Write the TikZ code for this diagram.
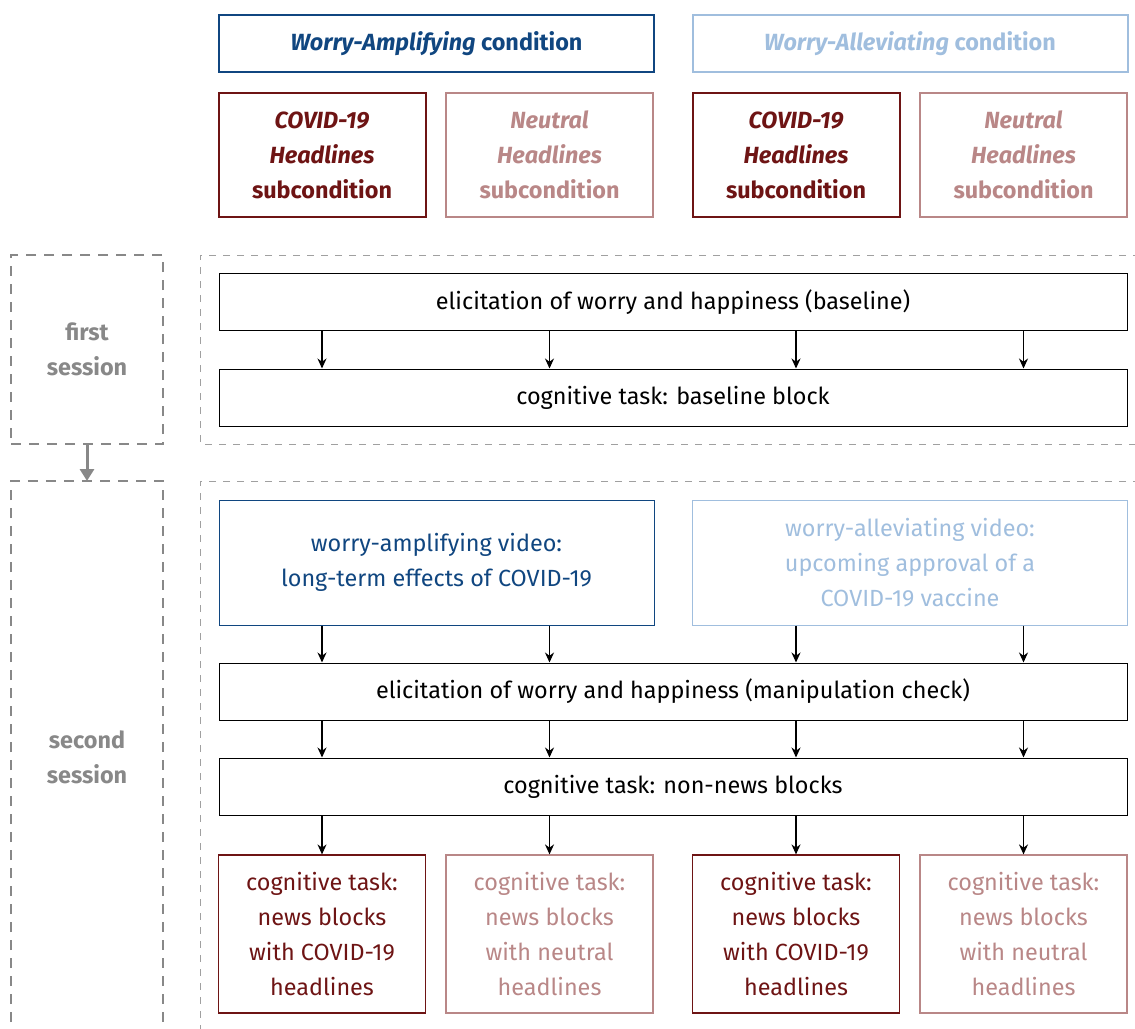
\documentclass[tikz,border=0pt]{standalone}
\usepackage{fontspec}
\setmainfont{Fira Sans}
\usetikzlibrary{arrows.meta}
\definecolor{wablue}{RGB}{16,70,128}
\definecolor{walight}{RGB}{160,190,222}
\definecolor{covred}{RGB}{110,20,20}
\definecolor{neured}{RGB}{185,135,135}
\definecolor{sessgray}{RGB}{136,136,136}

\begin{document}
\begin{tikzpicture}[x=0.5pt,y=-0.5pt,
  every node/.style={font=\fontsize{11.7}{17.5}\selectfont,align=center,inner sep=0pt},
  condbox/.style={draw,line width=1pt,minimum width=217.5pt,minimum height=28.5pt,
    font=\fontsize{11.7}{17.5}\selectfont\bfseries},
  subbox/.style={draw,line width=1pt,minimum width=103.5pt,minimum height=62pt,
    font=\fontsize{11.7}{17.5}\selectfont\bfseries},
  stepbox/.style={draw,line width=0.5pt,minimum width=454pt,minimum height=28.5pt},
  videobox/.style={draw,line width=0.5pt,minimum width=217.5pt,minimum height=62.5pt},
  newsbox/.style={draw,line width=0.6pt,minimum width=103.5pt,minimum height=79pt},
  sessbox/.style={draw=sessgray,line width=1.2pt,dash pattern=on 5pt off 4pt},
  sesstext/.style={text=sessgray,font=\fontsize{11.7}{17.5}\selectfont\bfseries},
  frame/.style={draw=sessgray!80,line width=0.5pt,dash pattern=on 3.5pt off 3.5pt},
  arr/.style={-{Stealth[length=5pt,width=4.5pt]},line width=0.7pt}]
\useasboundingbox (0,0) rectangle (1135,1028);

% conditions
\node[condbox,draw=wablue,text=wablue] (ampl) at (436.5,43.5) {\textit{Worry-Amplifying} condition};
\node[condbox,draw=walight,text=walight] (allev) at (910,43.5) {\textit{Worry-Alleviating} condition};

% subconditions
\node[subbox,draw=covred,text=covred] (acov) at (322,155) {\textit{COVID-19}\\\textit{Headlines}\\subcondition};
\node[subbox,draw=neured,text=neured] (aneu) at (549.5,155) {\textit{Neutral}\\\textit{Headlines}\\subcondition};
\node[subbox,draw=covred,text=covred] (lcov) at (796,155) {\textit{COVID-19}\\\textit{Headlines}\\subcondition};
\node[subbox,draw=neured,text=neured] (lneu) at (1023.5,155) {\textit{Neutral}\\\textit{Headlines}\\subcondition};

% first session
\node[sessbox,sesstext,minimum width=76pt,minimum height=94.5pt] (first) at (87,349.5) {first\\session};
\draw[frame] (1140,255) -- (200,255) -- (200,444) -- (1140,444);
\node[stepbox] (elicbase) at (673,302) {elicitation of worry and happiness (baseline)};
\node[stepbox] (taskbase) at (673,397.5) {cognitive task: baseline block};

% second session
\coordinate (secondtop) at (87,481);
\draw[sessbox] (11,1040) -- (11,481) -- (163,481) -- (163,1040);
\node[sesstext] (second) at (87,757) {second\\session};
\draw[frame] (1140,481) -- (200,481) -- (200,1040);
\draw[-{Triangle[length=6pt,width=7pt]},line width=1.5pt,sessgray] (first) -- (secondtop);

\node[videobox,draw=wablue,text=wablue] (ampvid) at (436.5,562.5) {worry-amplifying video:\\long-term effects of COVID-19};
\node[videobox,draw=walight,text=walight] (allvid) at (910,562.5) {worry-alleviating video:\\upcoming approval of a\\COVID-19 vaccine};
\node[stepbox] (eliccheck) at (673,691.5) {elicitation of worry and happiness (manipulation check)};
\node[stepbox] (tasknon) at (673,786.5) {cognitive task: non-news blocks};

\node[newsbox,draw=covred,text=covred] (anewscov) at (322,934) {cognitive task:\\news blocks\\with COVID-19\\headlines};
\node[newsbox,draw=neured,text=neured] (anewsneu) at (549.5,934) {cognitive task:\\news blocks\\with neutral\\headlines};
\node[newsbox,draw=covred,text=covred] (lnewscov) at (796,934) {cognitive task:\\news blocks\\with COVID-19\\headlines};
\node[newsbox,draw=neured,text=neured] (lnewsneu) at (1023.5,934) {cognitive task:\\news blocks\\with neutral\\headlines};

% arrows
\foreach \col in {acov,aneu,lcov,lneu}{
  \draw[arr] (\col |- elicbase.south) -- (\col |- taskbase.north);
  \draw[arr] (\col |- eliccheck.south) -- (\col |- tasknon.north);
}
\draw[arr] (acov |- ampvid.south) -- (acov |- eliccheck.north);
\draw[arr] (aneu |- ampvid.south) -- (aneu |- eliccheck.north);
\draw[arr] (lcov |- allvid.south) -- (lcov |- eliccheck.north);
\draw[arr] (lneu |- allvid.south) -- (lneu |- eliccheck.north);
\draw[arr] (acov |- tasknon.south) -- (anewscov);
\draw[arr] (aneu |- tasknon.south) -- (anewsneu);
\draw[arr] (lcov |- tasknon.south) -- (lnewscov);
\draw[arr] (lneu |- tasknon.south) -- (lnewsneu);
\end{tikzpicture}
\end{document}
